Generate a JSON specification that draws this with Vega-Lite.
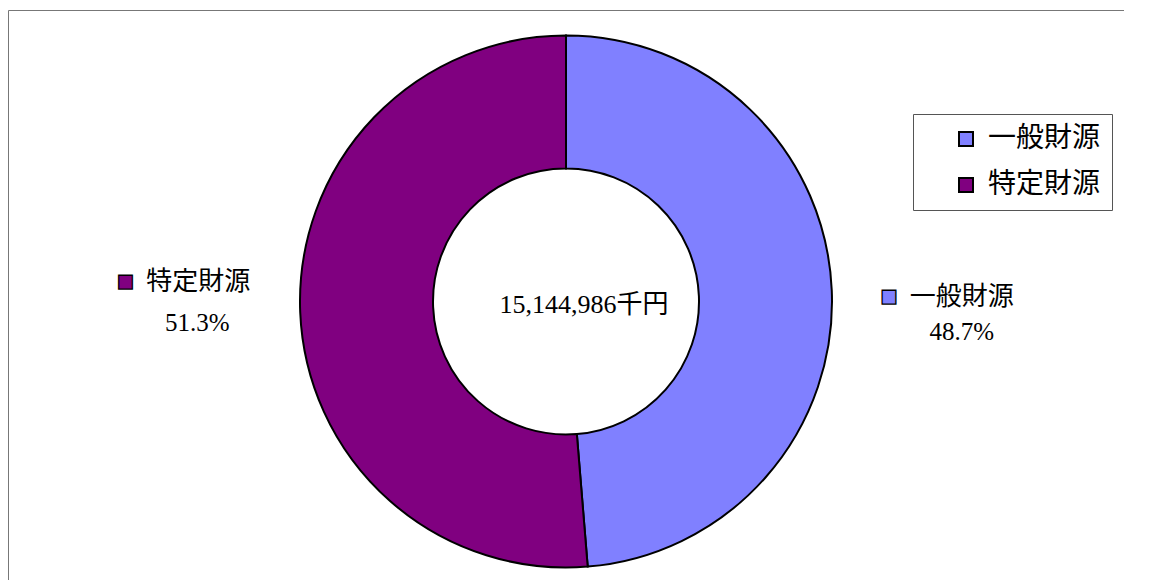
{
  "$schema": "https://vega.github.io/schema/vega-lite/v6.json",
  "width": 1116,
  "height": 583,
  "autosize": {"type": "none"},
  "padding": {"left": 8, "top": 10, "right": 0, "bottom": 0},
  "background": "white",
  "view": {"stroke": "#777777", "strokeWidth": 1, "strokeDash": [1116, 1699, 583, 0]},
  "config": {"font": "Liberation Serif, Noto Sans CJK JP"},
  "layer": [
    {
      "data": {"values": [
        {"source": "一般財源", "share": 0.487},
        {"source": "特定財源", "share": 0.513}
      ]},
      "encoding": {
        "theta": {"field": "share", "type": "quantitative", "stack": true}
      },
      "layer": [
        {
          "mark": {"type": "arc", "outerRadius": 266, "innerRadius": 133, "stroke": "black", "strokeWidth": 2},
          "encoding": {
            "color": {
              "field": "source", "type": "nominal",
              "scale": {"domain": ["一般財源", "特定財源"], "range": ["#8080FF", "#800080"]},
              "legend": {
                "title": null, "orient": "none", "legendX": 905, "legendY": 104,
                "direction": "vertical", "padding": 11,
                "strokeColor": "#555555", "fillColor": "white",
                "symbolType": "square", "symbolSize": 196,
                "symbolStrokeColor": "black", "symbolStrokeWidth": 2,
                "symbolOffset": 28, "labelOffset": 8,
                "labelFont": "Liberation Serif, Noto Sans CJK JP", "labelFontSize": 28,
                "labelColor": "black", "rowPadding": 18, "labelLimit": 400,
                "labelExpr": "datum.label + '　'"
              }
            }
          }
        },
        {
          "mark": {"type": "text", "radius": 396, "fontSize": 26, "dx": 0, "dy": 12, "align": "center", "baseline": "middle", "color": "black"},
          "encoding": {
            "detail": {"field": "source"},
            "text": {"condition": {"test": "datum.source === '一般財源'", "field": "source"}, "value": ""}
          }
        },
        {
          "mark": {"type": "text", "radius": 396, "fontSize": 25, "dx": 0, "dy": 47, "align": "center", "baseline": "middle", "color": "black"},
          "encoding": {
            "detail": {"field": "source"},
            "text": {"condition": {"test": "datum.source === '一般財源'", "field": "share", "type": "quantitative", "format": ".1%"}, "value": ""}
          }
        },
        {
          "mark": {"type": "text", "radius": 396, "font": "DejaVu Sans", "fontSize": 18, "dx": -73, "dy": 12, "align": "center", "baseline": "middle", "color": "#8080FF", "stroke": "black", "strokeWidth": 1.3},
          "encoding": {
            "detail": {"field": "source"},
            "text": {"condition": {"test": "datum.source === '一般財源'", "value": "■"}, "value": ""}
          }
        },
        {
          "mark": {"type": "text", "radius": 396, "fontSize": 26, "dx": 28, "dy": -36, "align": "center", "baseline": "middle", "color": "black"},
          "encoding": {
            "detail": {"field": "source"},
            "text": {"condition": {"test": "datum.source === '特定財源'", "field": "source"}, "value": ""}
          }
        },
        {
          "mark": {"type": "text", "radius": 396, "fontSize": 25, "dx": 27, "dy": 5, "align": "center", "baseline": "middle", "color": "black"},
          "encoding": {
            "detail": {"field": "source"},
            "text": {"condition": {"test": "datum.source === '特定財源'", "field": "share", "type": "quantitative", "format": ".1%"}, "value": ""}
          }
        },
        {
          "mark": {"type": "text", "radius": 396, "font": "DejaVu Sans", "fontSize": 18, "dx": -45, "dy": -36, "align": "center", "baseline": "middle", "color": "#800080", "stroke": "black", "strokeWidth": 1.3},
          "encoding": {
            "detail": {"field": "source"},
            "text": {"condition": {"test": "datum.source === '特定財源'", "value": "■"}, "value": ""}
          }
        }
      ]
    },
    {
      "data": {"values": [{"label": "15,144,986千円"}]},
      "mark": {"type": "text", "fontSize": 26, "dx": 18, "dy": 3, "align": "center", "baseline": "middle", "color": "black"},
      "encoding": {"text": {"field": "label"}}
    }
  ]
}
